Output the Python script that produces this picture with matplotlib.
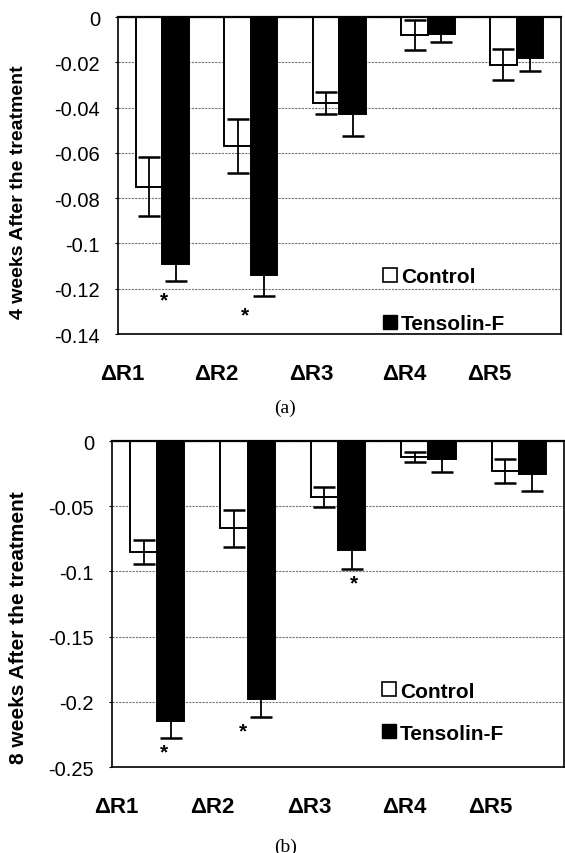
"""Skin parameters after 4 and 8 weeks: Control vs Tensolin-F."""

import numpy as np
import matplotlib
matplotlib.use('Agg')
from matplotlib import pyplot as plt
from matplotlib.patches import Patch

plt.rcParams['font.family'] = ['Liberation Sans', 'DejaVu Sans']
plt.rcParams['axes.unicode_minus'] = False

groups = ['ΔR1', 'ΔR2', 'ΔR3', 'ΔR4', 'ΔR5']

control_4w = [-0.075, -0.057, -0.038, -0.008, -0.021]
control_4w_err = [0.013, 0.012, 0.005, 0.0065, 0.0068]
tensolin_4w = [-0.109, -0.114, -0.043, -0.0075, -0.018]
tensolin_4w_err = [0.0075, 0.009, 0.0096, 0.0035, 0.006]

control_8w = [-0.085, -0.067, -0.043, -0.012, -0.023]
control_8w_err = [0.009, 0.014, 0.0078, 0.0038, 0.009]
tensolin_8w = [-0.215, -0.198, -0.0835, -0.0135, -0.0255]
tensolin_8w_err = [0.013, 0.014, 0.0148, 0.010, 0.0128]

# groups where Tensolin-F differs significantly from control
signif_4w = [0, 1]
signif_8w = [0, 1, 2]

yticks_4w = [0, -0.02, -0.04, -0.06, -0.08, -0.1, -0.12, -0.14]
yticks_8w = [0, -0.05, -0.1, -0.15, -0.2, -0.25]


def draw_panel(ax, control, control_err, tensolin, tensolin_err, signif,
               yticks, star_dx, star_dy, legend_anchor, labelspacing):
    """Draw one grouped bar panel."""
    idx = np.arange(len(groups))
    width = 0.3
    ax.bar(idx - 0.15, control, width, color='white', edgecolor='black',
           linewidth=1.4, zorder=2)
    ax.bar(idx + 0.15, tensolin, width, color='black', edgecolor='black',
           linewidth=1.4, zorder=2)
    ax.errorbar(idx - 0.15, control, yerr=control_err, fmt='none',
                ecolor='black', elinewidth=1.3, capsize=8, capthick=1.8,
                zorder=3)
    ax.errorbar(idx + 0.15, tensolin, yerr=tensolin_err, fmt='none',
                ecolor='black', elinewidth=1.3, capsize=8, capthick=1.8,
                zorder=3)
    for k, g in enumerate(signif):
        ax.annotate('*', (g + 0.15, tensolin[g] - tensolin_err[g]),
                    xytext=(star_dx[k], -star_dy), textcoords='offset points',
                    ha='center', va='center', fontsize=15, fontweight='bold')

    ax.set_xlim(-0.5, len(groups) - 0.5)
    ax.set_ylim(yticks[-1], 0)
    ax.set_yticks(yticks)
    ax.set_yticklabels(['%g' % v for v in yticks], fontsize=14.5)
    ax.tick_params(axis='y', length=2, pad=11)
    label_shift = np.array([-0.45, -0.39, -0.32, -0.27, -0.31])
    ax.set_xticks(idx + label_shift)
    ax.set_xticklabels(groups, fontsize=16, fontweight='bold')
    ax.tick_params(axis='x', length=0, pad=21)
    ax.yaxis.grid(True, linestyle=(0, (2, 1)), color='#777777', linewidth=0.8)
    ax.set_axisbelow(True)
    for side, spine in ax.spines.items():
        spine.set_linewidth(1.6 if side == 'top' else 1.2)

    handles = [Patch(facecolor='white', edgecolor='black', linewidth=1.2),
               Patch(facecolor='black', edgecolor='black')]
    ax.legend(handles, ['Control', 'Tensolin-F'], loc='lower left',
              bbox_to_anchor=legend_anchor, frameon=False, borderpad=0,
              handlelength=0.65, handleheight=0.65, handletextpad=0.2,
              labelspacing=labelspacing,
              prop={'weight': 'bold', 'size': 15})


def main():
    """Build the figure."""
    fig = plt.figure(figsize=(5.65, 8.54), dpi=100)
    ax_a = fig.add_axes([0.2088, 0.6077, 0.784, 0.3712])
    ax_b = fig.add_axes([0.1982, 0.1007, 0.8, 0.3817])

    draw_panel(ax_a, control_4w, control_4w_err, tensolin_4w, tensolin_4w_err,
               signif_4w, yticks_4w, [-8, -14], 14, (0.575, -0.03), 1.35)
    draw_panel(ax_b, control_8w, control_8w_err, tensolin_8w, tensolin_8w_err,
               signif_8w, yticks_8w, [-5, -13, 2], 10, (0.575, 0.043), 1.1)

    fig.text(19 / 565, 1 - 192 / 854, '4 weeks After the treatment',
             rotation=90, ha='center', va='center', fontsize=14,
             fontweight='bold')
    fig.text(19 / 565, 1 - 628 / 854, '8 weeks After the treatment',
             rotation=90, ha='center', va='center', fontsize=15,
             fontweight='bold')
    fig.text(285 / 565, 1 - 408 / 854, '(a)', ha='center', va='center',
             fontsize=14, family='Liberation Serif')
    fig.text(286 / 565, 1 - 847 / 854, '(b)', ha='center', va='center',
             fontsize=14, family='Liberation Serif')
    fig.savefig('out.png', dpi=100)


if __name__ == '__main__':
    main()
